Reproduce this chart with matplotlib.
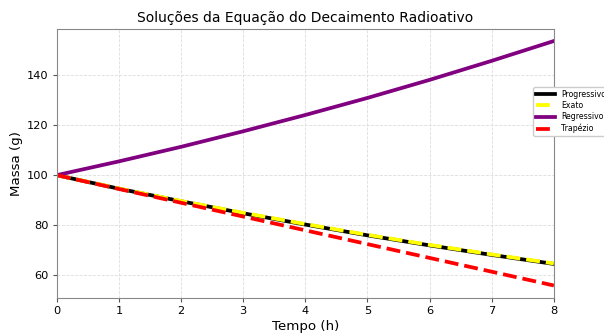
import numpy as np
import matplotlib
matplotlib.use('Agg')
import matplotlib.pyplot as plt

# valores (t em horas, massa em g)
tempo = [0, 1, 2, 3, 4, 5, 6, 7, 8]
progressivo = [100.0, 94.6, 89.6, 84.8, 80.3, 76.0, 72.0, 68.2, 64.6]
exato = [100.0, 94.7, 89.7, 85.0, 80.5, 76.2, 72.2, 68.4, 64.8]
regressivo = [100.0, 105.5, 111.3, 117.5, 124.0, 130.8, 138.0, 145.6, 153.5]
trapezio = [100.0, 94.5, 89.0, 83.5, 78.0, 72.5, 67.0, 61.5, 56.0]

fig = plt.figure(figsize=(6.04, 3.33), dpi=100)
ax = fig.add_axes([0.094, 0.105, 0.823, 0.808])

ax.plot(tempo, progressivo, color='black', lw=2.7, label='Progressivo')
ax.plot(tempo, exato, color='yellow', lw=2.7, ls='--', label='Exato')
ax.plot(tempo, regressivo, color='purple', lw=2.7, label='Regressivo')
ax.plot(tempo, trapezio, color='red', lw=2.7, ls='--', label='Trapézio')

ax.set_xlim(0, 8)
ax.set_ylim(51, 158.3)
ax.set_yticks([60, 80, 100, 120, 140])
ax.set_title('Soluções da Equação do Decaimento Radioativo', fontsize=10, pad=5)
ax.set_xlabel('Tempo (h)', fontsize=9.6, labelpad=3)
ax.set_ylabel('Massa (g)', fontsize=9.6, labelpad=3)
ax.grid(True, ls='--', color='#dddddd', lw=0.6)
for s in ax.spines.values():
    s.set_color('#888888')
ax.tick_params(labelsize=8.2, length=3, pad=2.7, color='#555555')
ax.legend(loc='upper left', bbox_to_anchor=(0.958, 0.784), fontsize=5.6,
          framealpha=1, handlelength=2.5, borderaxespad=0,
          labelspacing=0.3, borderpad=0.35)

fig.savefig('out.png', dpi=100)
